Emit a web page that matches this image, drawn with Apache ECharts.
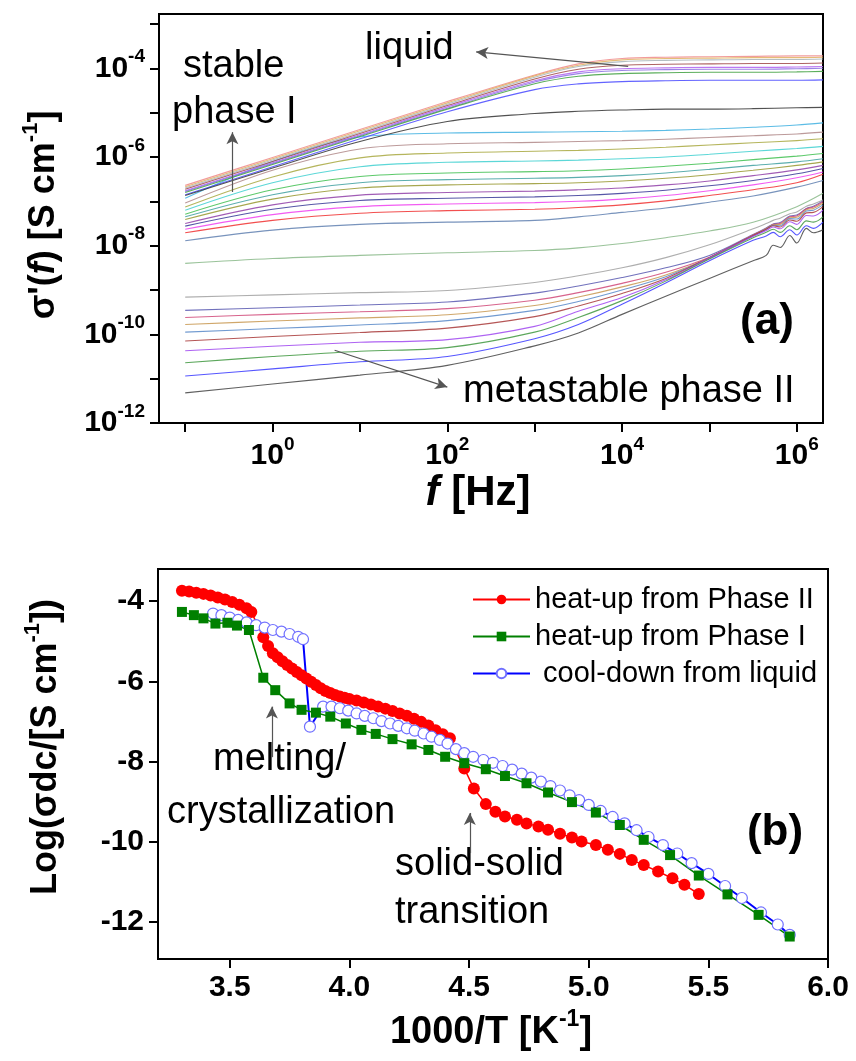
<!DOCTYPE html>
<html><head><meta charset="utf-8">
<script src="https://cdn.jsdelivr.net/npm/echarts@6/dist/echarts.min.js"></script>
<style>html,body{margin:0;padding:0;background:#fff}#c{width:856px;height:1061px}</style>
</head><body><div id="c"></div>
<script>
const FONT = '"Liberation Sans", Arial, Helvetica, sans-serif';

// ---------- Panel (a): log10(f / Hz) sampling grids ----------
const logFreqA = [-1, 0, 1, 2, 3, 3.5, 4, 4.5, 5, 5.5, 6, 6.3];
const logFreqPhaseII = [-1, 0, 1, 2, 3, 3.5, 4, 4.5, 5, 5.5, 5.65, 5.73, 5.81, 5.92, 6.0, 6.11, 6.19, 6.3];

// log10(sigma') for liquid curves (top bundle)
const liquidCurves = [
  [-6.64,-6.01,-5.38,-4.75,-4.15,-3.90,-3.78,-3.75,-3.74,-3.73,-3.72,-3.72],
  [-6.67,-6.04,-5.41,-4.78,-4.17,-3.93,-3.81,-3.78,-3.77,-3.76,-3.76,-3.75],
  [-6.70,-6.07,-5.44,-4.81,-4.20,-3.96,-3.85,-3.82,-3.81,-3.80,-3.80,-3.79],
  [-6.73,-6.10,-5.47,-4.84,-4.24,-4.02,-3.93,-3.91,-3.90,-3.89,-3.89,-3.88],
  [-6.76,-6.13,-5.50,-4.87,-4.28,-4.08,-4.01,-3.99,-3.98,-3.98,-3.97,-3.96],
  [-6.78,-6.15,-5.52,-4.90,-4.31,-4.12,-4.05,-4.03,-4.02,-4.02,-4.01,-4.00],
  [-6.80,-6.17,-5.54,-4.92,-4.35,-4.18,-4.12,-4.10,-4.09,-4.09,-4.08,-4.07],
  [-6.85,-6.22,-5.59,-4.98,-4.48,-4.35,-4.30,-4.28,-4.27,-4.27,-4.27,-4.26],
  [-6.87,-6.25,-5.65,-5.20,-5.02,-4.97,-4.94,-4.92,-4.92,-4.91,-4.89,-4.88]
];
const liquidColors = ['#f08a8a','#e0b060','#a8b4b8','#a04848','#b060f0','#8a70e0','#40a040','#4848ff','#333333'];

// log10(sigma') for stable phase I curves
const phaseICurves = [
  [-6.93,-6.10,-5.55,-5.46,-5.44,-5.43,-5.42,-5.40,-5.37,-5.33,-5.28,-5.23],
  [-7.04,-6.30,-5.82,-5.70,-5.67,-5.65,-5.63,-5.60,-5.56,-5.52,-5.48,-5.44],
  [-7.13,-6.45,-6.02,-5.91,-5.87,-5.85,-5.82,-5.78,-5.73,-5.68,-5.63,-5.59],
  [-7.20,-6.58,-6.22,-6.12,-6.09,-6.07,-6.04,-6.00,-5.94,-5.87,-5.81,-5.76],
  [-7.29,-6.74,-6.44,-6.36,-6.33,-6.31,-6.27,-6.21,-6.14,-6.06,-5.98,-5.92],
  [-7.35,-6.85,-6.58,-6.51,-6.48,-6.46,-6.42,-6.36,-6.28,-6.19,-6.11,-6.04],
  [-7.41,-6.95,-6.70,-6.63,-6.60,-6.58,-6.54,-6.48,-6.40,-6.30,-6.19,-6.11],
  [-7.50,-7.08,-6.86,-6.80,-6.77,-6.74,-6.70,-6.63,-6.54,-6.42,-6.29,-6.19],
  [-7.56,-7.18,-6.98,-6.93,-6.90,-6.87,-6.82,-6.75,-6.65,-6.53,-6.38,-6.26],
  [-7.63,-7.30,-7.12,-7.06,-7.03,-7.00,-6.95,-6.87,-6.76,-6.63,-6.47,-6.34],
  [-7.71,-7.43,-7.27,-7.21,-7.18,-7.14,-7.08,-6.99,-6.87,-6.74,-6.58,-6.39],
  [-7.89,-7.65,-7.52,-7.47,-7.43,-7.35,-7.25,-7.15,-7.02,-6.88,-6.68,-6.53],
  [-8.40,-8.29,-8.22,-8.16,-8.11,-8.05,-7.95,-7.82,-7.67,-7.47,-7.12,-6.82]
];
const phaseIColors = ['#40b0e0','#b08888','#a8a840','#40d0d0','#40c050','#40a0a0','#989830','#9040a8','#383898','#f040f0','#f03030','#6080b0','#88b888'];

// log10(sigma') for metastable phase II curves
const phaseIICurves = [
  [-9.16,-9.11,-9.06,-9.01,-8.83,-8.68,-8.50,-8.27,-7.98,-7.62,-7.50,-7.43,-7.38,-7.28,-7.24,-7.11,-7.06,-6.97],
  [-9.46,-9.40,-9.34,-9.27,-9.07,-8.91,-8.72,-8.50,-8.22,-7.75,-7.60,-7.51,-7.48,-7.33,-7.31,-7.16,-7.11,-6.99],
  [-9.62,-9.55,-9.49,-9.42,-9.23,-9.06,-8.85,-8.60,-8.26,-7.76,-7.61,-7.52,-7.50,-7.35,-7.33,-7.17,-7.13,-7.01],
  [-9.78,-9.70,-9.63,-9.56,-9.35,-9.16,-8.93,-8.66,-8.27,-7.77,-7.62,-7.53,-7.52,-7.37,-7.36,-7.19,-7.16,-7.04],
  [-9.95,-9.87,-9.79,-9.69,-9.46,-9.26,-9.00,-8.70,-8.28,-7.78,-7.63,-7.54,-7.55,-7.39,-7.40,-7.22,-7.20,-7.08],
  [-10.15,-10.05,-9.96,-9.86,-9.60,-9.36,-9.08,-8.74,-8.27,-7.77,-7.63,-7.55,-7.58,-7.42,-7.45,-7.26,-7.25,-7.12],
  [-10.37,-10.27,-10.18,-10.12,-9.82,-9.48,-9.17,-8.77,-8.28,-7.79,-7.66,-7.58,-7.62,-7.46,-7.52,-7.32,-7.33,-7.20],
  [-10.64,-10.50,-10.38,-10.30,-9.95,-9.62,-9.24,-8.80,-8.30,-7.82,-7.70,-7.63,-7.70,-7.55,-7.64,-7.44,-7.47,-7.35],
  [-10.94,-10.78,-10.62,-10.50,-10.10,-9.78,-9.32,-8.84,-8.34,-7.88,-7.78,-7.70,-7.80,-7.64,-7.76,-7.55,-7.61,-7.47],
  [-11.32,-11.12,-10.92,-10.70,-10.26,-9.97,-9.55,-9.14,-8.74,-8.34,-8.22,-7.99,-8.04,-7.77,-7.94,-7.61,-7.71,-7.64]
];
const phaseIIColors = ['#a0a0a0','#5858b0','#d04878','#c89850','#5888c8','#a83838','#a048f0','#409840','#3838ff','#444444'];

// Tick values
const xTicksA = [-1, 0, 1, 2, 3, 4, 5, 6];
const xLabelsA = [0, 2, 4, 6];
const yTicksA = [-12, -11, -10, -9, -8, -7, -6, -5, -4, -3];
const yLabelsA = [-12, -10, -8, -6, -4];

// ---------- Panel (b): 1000/T [1/K] vs log10(sigma_dc) ----------
const heatPhaseII_x = [3.30,3.33,3.36,3.39,3.42,3.45,3.48,3.51,3.54,3.57,3.59,3.64,3.66,3.68,3.70,3.72,3.74,3.76,3.78,3.80,3.82,3.84,3.86,3.88,3.90,3.92,3.94,3.96,3.98,4.00,4.03,4.06,4.09,4.12,4.15,4.18,4.21,4.24,4.27,4.30,4.33,4.36,4.39,4.42,4.48,4.52,4.57,4.61,4.65,4.70,4.74,4.79,4.83,4.88,4.93,4.97,5.03,5.08,5.13,5.18,5.23,5.29,5.35,5.40,5.46];
const heatPhaseII_y = [-3.74,-3.76,-3.79,-3.82,-3.86,-3.91,-3.96,-4.02,-4.09,-4.18,-4.27,-4.90,-5.12,-5.30,-5.40,-5.50,-5.59,-5.68,-5.77,-5.85,-5.93,-6.01,-6.09,-6.17,-6.24,-6.29,-6.34,-6.38,-6.41,-6.44,-6.48,-6.53,-6.58,-6.63,-6.68,-6.74,-6.80,-6.86,-6.93,-7.01,-7.10,-7.22,-7.32,-7.42,-8.17,-8.67,-9.06,-9.25,-9.37,-9.45,-9.54,-9.62,-9.70,-9.80,-9.89,-9.99,-10.08,-10.20,-10.30,-10.45,-10.58,-10.74,-10.91,-11.07,-11.30];

const heatPhaseI_x = [3.30,3.35,3.39,3.44,3.49,3.53,3.58,3.64,3.69,3.75,3.80,3.86,3.92,3.985,4.05,4.11,4.18,4.26,4.33,4.40,4.48,4.57,4.65,4.74,4.83,4.93,5.03,5.13,5.23,5.34,5.46,5.58,5.71,5.84];
const heatPhaseI_y = [-4.27,-4.35,-4.43,-4.56,-4.54,-4.61,-4.72,-5.91,-6.22,-6.55,-6.71,-6.78,-6.88,-7.05,-7.21,-7.31,-7.44,-7.57,-7.71,-7.88,-8.04,-8.19,-8.36,-8.54,-8.77,-9.01,-9.27,-9.58,-9.95,-10.33,-10.84,-11.31,-11.82,-12.36];

const coolLiquid_x = [3.43,3.465,3.50,3.535,3.57,3.61,3.646,3.68,3.716,3.75,3.786,3.806,3.835,3.89,3.925,3.96,3.995,4.03,4.064,4.10,4.134,4.17,4.204,4.24,4.273,4.31,4.343,4.378,4.41,4.445,4.48,4.517,4.56,4.60,4.64,4.68,4.72,4.76,4.80,4.84,4.88,4.92,4.96,5.00,5.05,5.10,5.15,5.20,5.25,5.31,5.37,5.43,5.50,5.57,5.64,5.72,5.79,5.84];
const coolLiquid_y = [-4.31,-4.35,-4.41,-4.47,-4.53,-4.60,-4.66,-4.72,-4.76,-4.82,-4.89,-4.95,-7.13,-6.63,-6.63,-6.67,-6.73,-6.80,-6.86,-6.92,-6.99,-7.05,-7.11,-7.17,-7.23,-7.30,-7.38,-7.46,-7.55,-7.69,-7.79,-7.88,-7.96,-8.03,-8.11,-8.20,-8.30,-8.40,-8.50,-8.61,-8.72,-8.84,-8.96,-9.08,-9.23,-9.38,-9.54,-9.71,-9.88,-10.08,-10.29,-10.53,-10.80,-11.10,-11.40,-11.76,-12.06,-12.32];

const xTicksB = [3.5, 4.0, 4.5, 5.0, 5.5, 6.0];
const yTicksB = [-12, -10, -8, -6, -4];
const seriesNamesB = ['heat-up from Phase II', 'heat-up from Phase I', ' cool-down from liquid'];

// annotation arrows (data coordinates)
const arrowsA = [
  [[-0.46, -6.79], [-0.46, -5.44]],
  [[4.07, -3.955], [2.33, -3.63]],
  [[0.71, -10.36], [2.0, -11.19]]
];
const arrowsB = [
  [[3.676, -7.89], [3.676, -6.63]],
  [[4.503, -10.28], [4.503, -9.28]]
];

// ---------- build option ----------
const supRich = {
  b: {fontFamily: FONT, fontSize: 30, fontWeight: 'bold', color: '#000', lineHeight: 42},
  s: {fontFamily: FONT, fontSize: 19, fontWeight: 'bold', color: '#000', verticalAlign: 'top', lineHeight: 19}
};
const axisLineStyle = {show: true, onZero: false, lineStyle: {color: '#000', width: 2}};
const tickStyle = {color: '#000', width: 2};

const series = [];
function addCurves(freqs, curves, colors) {
  curves.forEach((vals, k) => {
    series.push({
      type: 'line', xAxisIndex: 0, yAxisIndex: 0, silent: true,
      data: freqs.map((f, i) => [f, vals[i]]),
      symbol: 'none', smooth: 0.35,
      lineStyle: {color: colors[k], width: 1.1, opacity: 0.85}
    });
  });
}
addCurves(logFreqPhaseII, phaseIICurves, phaseIIColors);
addCurves(logFreqA, phaseICurves, phaseIColors);
addCurves(logFreqA, liquidCurves, liquidColors);

function arrowSeries(arrows, gi) {
  return {
    type: 'line', xAxisIndex: gi, yAxisIndex: gi, data: [], silent: true,
    markLine: {
      silent: true, animation: false,
      symbol: ['none', 'arrow'], symbolSize: [9, 12],
      lineStyle: {color: '#555', width: 1.2, type: 'solid'},
      label: {show: false},
      data: arrows.map(a => [{coord: a[0]}, {coord: a[1]}])
    }
  };
}
series.push(arrowSeries(arrowsA, 0));
series.push(arrowSeries(arrowsB, 1));

const pair = (xs, ys) => xs.map((x, i) => [x, ys[i]]);
series.push({
  name: seriesNamesB[0], type: 'line', xAxisIndex: 1, yAxisIndex: 1,
  data: pair(heatPhaseII_x, heatPhaseII_y),
  symbol: 'circle', symbolSize: 12, showAllSymbol: true,
  itemStyle: {color: '#ff0000'}, lineStyle: {color: '#ff0000', width: 1.5}
});
series.push({
  name: seriesNamesB[2], type: 'line', xAxisIndex: 1, yAxisIndex: 1,
  data: pair(coolLiquid_x, coolLiquid_y),
  symbol: 'circle', symbolSize: 11, showAllSymbol: true,
  itemStyle: {color: '#ffffff', borderColor: '#7070ff', borderWidth: 1.2},
  lineStyle: {color: '#0000ff', width: 2}
});
series.push({
  name: seriesNamesB[1], type: 'line', xAxisIndex: 1, yAxisIndex: 1,
  data: pair(heatPhaseI_x, heatPhaseI_y),
  symbol: 'rect', symbolSize: 10, showAllSymbol: true,
  itemStyle: {color: '#008000'}, lineStyle: {color: '#008000', width: 1.5}
});

function txt(x, y, text, size, extra) {
  return Object.assign({
    type: 'text', x: x, y: y, silent: true,
    style: {text: text, fontFamily: FONT, fontSize: size, fill: '#000', textAlign: 'left', textVerticalAlign: 'middle'}
  }, extra || {});
}
const titleRich = (size) => ({
  b: {fontFamily: FONT, fontSize: size, fontWeight: 'bold', color: '#000', lineHeight: size + 12},
  i: {fontFamily: FONT, fontSize: size, fontWeight: 'bold', fontStyle: 'italic', color: '#000', lineHeight: size + 12},
  s: {fontFamily: FONT, fontSize: Math.round(size * 0.6), fontWeight: 'bold', color: '#000', verticalAlign: 'top', lineHeight: Math.round(size * 0.6)}
});
function richTxt(x, y, text, size, rot) {
  return {
    type: 'text', x: x, y: y, rotation: rot || 0, silent: true,
    style: {text: text, rich: titleRich(size), textAlign: 'center', textVerticalAlign: 'middle'}
  };
}

const option = {
  animation: false,
  backgroundColor: '#fff',
  grid: [
    {left: 159, top: 14, width: 664, height: 409, show: true, borderColor: '#000', borderWidth: 2, backgroundColor: 'transparent'},
    {left: 158, top: 569, width: 670, height: 390, show: true, borderColor: '#000', borderWidth: 2, backgroundColor: 'transparent'}
  ],
  xAxis: [
    {type: 'value', gridIndex: 0, min: -1.3, max: 6.3,
     axisLine: axisLineStyle,
     axisTick: {show: true, inside: false, length: 9, lineStyle: tickStyle, customValues: xTicksA},
     axisLabel: {customValues: xLabelsA, margin: 12, formatter: v => '{b|10}{s|' + v + '}', rich: supRich},
     splitLine: {show: false}},
    {type: 'value', gridIndex: 1, min: 3.2, max: 6.0,
     axisLine: axisLineStyle,
     axisTick: {show: true, inside: false, length: 9, lineStyle: tickStyle, customValues: xTicksB},
     axisLabel: {customValues: xTicksB, margin: 14, formatter: v => v.toFixed(1),
       fontFamily: FONT, fontSize: 30, fontWeight: 'bold', color: '#000'},
     splitLine: {show: false}}
  ],
  yAxis: [
    {type: 'value', gridIndex: 0, min: -12, max: -2.775,
     axisLine: axisLineStyle,
     axisTick: {show: true, inside: false, length: 9, lineStyle: tickStyle, customValues: yTicksA},
     axisLabel: {customValues: yLabelsA, margin: 14, formatter: v => '{b|10}{s|' + v + '}', rich: supRich},
     splitLine: {show: false}},
    {type: 'value', gridIndex: 1, min: -12.92, max: -3.2,
     axisLine: axisLineStyle,
     axisTick: {show: true, inside: false, length: 9, lineStyle: tickStyle, customValues: yTicksB},
     axisLabel: {customValues: yTicksB, margin: 14, formatter: v => String(v),
       fontFamily: FONT, fontSize: 30, fontWeight: 'bold', color: '#000'},
     splitLine: {show: false}}
  ],
  legend: {
    data: [seriesNamesB[0], seriesNamesB[1], seriesNamesB[2]],
    orient: 'vertical', left: 467, top: 580,
    itemWidth: 57, itemHeight: 12, itemGap: 8,
    textStyle: {fontFamily: FONT, fontSize: 29, color: '#000'},
    selectedMode: false
  },
  series: series,
  graphic: [
    txt(183, 67, 'stable', 38),
    txt(172, 113, 'phase I', 38),
    txt(365, 49, 'liquid', 38),
    txt(463, 392, 'metastable phase II', 38),
    {type: 'text', x: 767, y: 322, silent: true, style: {text: '(a)', fontFamily: FONT, fontSize: 44, fontWeight: 'bold', fill: '#000', textAlign: 'center', textVerticalAlign: 'middle'}},
    txt(213, 760, 'melting/', 38),
    txt(167, 813, 'crystallization', 38),
    txt(395, 865, 'solid-solid', 38),
    txt(395, 913, 'transition', 38),
    {type: 'text', x: 775, y: 833, silent: true, style: {text: '(b)', fontFamily: FONT, fontSize: 44, fontWeight: 'bold', fill: '#000', textAlign: 'center', textVerticalAlign: 'middle'}},
    richTxt(44, 215, "{b|σ'(}{i|f}{b|) [S cm}{s|-1}{b|]}", 36, Math.PI / 2),
    richTxt(478, 493, '{i|f}{b| [Hz]}', 42, 0),
    richTxt(46, 747, '{b|Log(σdc/[S cm}{s|-1}{b|])}', 36, Math.PI / 2),
    richTxt(491, 1033, '{b|1000/T [K}{s|-1}{b|]}', 38, 0)
  ]
};

const chart = echarts.init(document.getElementById('c'));
chart.setOption(option);
</script>
</body></html>
